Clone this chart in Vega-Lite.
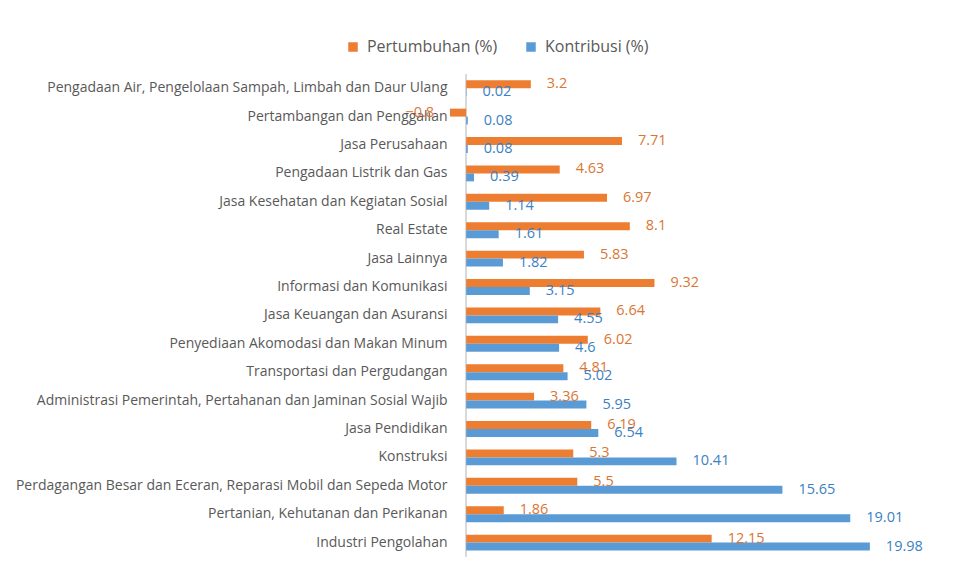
{
  "$schema": "https://vega.github.io/schema/vega-lite/v6.json",
  "autosize": "none",
  "width": 491,
  "height": 482.8,
  "padding": {"left": 450, "top": 74, "right": 21, "bottom": 9},
  "background": "white",
  "config": {
    "view": {"stroke": null},
    "font": "Open Sans",
    "text": {"font": "Open Sans"}
  },
  "data": {
    "values": [
      {"k": "Pengadaan Air, Pengelolaan Sampah, Limbah dan Daur Ulang", "s": "Pertumbuhan (%)", "v": 3.2},
      {"k": "Pengadaan Air, Pengelolaan Sampah, Limbah dan Daur Ulang", "s": "Kontribusi (%)", "v": 0.02},
      {"k": "Pertambangan dan Penggalian", "s": "Pertumbuhan (%)", "v": -0.8},
      {"k": "Pertambangan dan Penggalian", "s": "Kontribusi (%)", "v": 0.08},
      {"k": "Jasa Perusahaan", "s": "Pertumbuhan (%)", "v": 7.71},
      {"k": "Jasa Perusahaan", "s": "Kontribusi (%)", "v": 0.08},
      {"k": "Pengadaan Listrik dan Gas", "s": "Pertumbuhan (%)", "v": 4.63},
      {"k": "Pengadaan Listrik dan Gas", "s": "Kontribusi (%)", "v": 0.39},
      {"k": "Jasa Kesehatan dan Kegiatan Sosial", "s": "Pertumbuhan (%)", "v": 6.97},
      {"k": "Jasa Kesehatan dan Kegiatan Sosial", "s": "Kontribusi (%)", "v": 1.14},
      {"k": "Real Estate", "s": "Pertumbuhan (%)", "v": 8.1},
      {"k": "Real Estate", "s": "Kontribusi (%)", "v": 1.61},
      {"k": "Jasa Lainnya", "s": "Pertumbuhan (%)", "v": 5.83},
      {"k": "Jasa Lainnya", "s": "Kontribusi (%)", "v": 1.82},
      {"k": "Informasi dan Komunikasi", "s": "Pertumbuhan (%)", "v": 9.32},
      {"k": "Informasi dan Komunikasi", "s": "Kontribusi (%)", "v": 3.15},
      {"k": "Jasa Keuangan dan Asuransi", "s": "Pertumbuhan (%)", "v": 6.64},
      {"k": "Jasa Keuangan dan Asuransi", "s": "Kontribusi (%)", "v": 4.55},
      {"k": "Penyediaan Akomodasi dan Makan Minum", "s": "Pertumbuhan (%)", "v": 6.02},
      {"k": "Penyediaan Akomodasi dan Makan Minum", "s": "Kontribusi (%)", "v": 4.6},
      {"k": "Transportasi dan Pergudangan", "s": "Pertumbuhan (%)", "v": 4.81},
      {"k": "Transportasi dan Pergudangan", "s": "Kontribusi (%)", "v": 5.02},
      {"k": "Administrasi Pemerintah, Pertahanan dan Jaminan Sosial Wajib", "s": "Pertumbuhan (%)", "v": 3.36},
      {"k": "Administrasi Pemerintah, Pertahanan dan Jaminan Sosial Wajib", "s": "Kontribusi (%)", "v": 5.95},
      {"k": "Jasa Pendidikan", "s": "Pertumbuhan (%)", "v": 6.19},
      {"k": "Jasa Pendidikan", "s": "Kontribusi (%)", "v": 6.54},
      {"k": "Konstruksi", "s": "Pertumbuhan (%)", "v": 5.3},
      {"k": "Konstruksi", "s": "Kontribusi (%)", "v": 10.41},
      {"k": "Perdagangan Besar dan Eceran, Reparasi Mobil dan Sepeda Motor", "s": "Pertumbuhan (%)", "v": 5.5},
      {"k": "Perdagangan Besar dan Eceran, Reparasi Mobil dan Sepeda Motor", "s": "Kontribusi (%)", "v": 15.65},
      {"k": "Pertanian, Kehutanan dan Perikanan", "s": "Pertumbuhan (%)", "v": 1.86},
      {"k": "Pertanian, Kehutanan dan Perikanan", "s": "Kontribusi (%)", "v": 19.01},
      {"k": "Industri Pengolahan", "s": "Pertumbuhan (%)", "v": 12.15},
      {"k": "Industri Pengolahan", "s": "Kontribusi (%)", "v": 19.98}
    ]
  },
  "encoding": {
    "y": {
      "field": "k",
      "type": "nominal",
      "sort": null,
      "scale": {"paddingInner": 0.44, "paddingOuter": 0.22},
      "axis": {
        "title": null,
        "domain": false,
        "ticks": false,
        "labelPadding": 3,
        "labelFontSize": 14,
        "labelColor": "#595959",
        "labelLimit": 500,
        "labelFont": "Open Sans"
      }
    },
    "yOffset": {
      "field": "s",
      "type": "nominal",
      "scale": {"domain": ["Pertumbuhan (%)", "Kontribusi (%)"], "paddingInner": 0, "paddingOuter": 0}
    },
    "x": {
      "field": "v",
      "type": "quantitative",
      "scale": {"domain": [-0.8, 23.5], "nice": false, "zero": false},
      "axis": null
    }
  },
  "layer": [
    {
      "mark": {"type": "rule", "color": "#d9d9d9", "strokeWidth": 1},
      "encoding": {"x": {"datum": 0}, "y": null, "yOffset": null}
    },
    {
      "mark": {"type": "bar"},
      "encoding": {
        "color": {
          "field": "s",
          "type": "nominal",
          "scale": {"domain": ["Pertumbuhan (%)", "Kontribusi (%)"], "range": ["#ED7D31", "#5B9BD5"]},
          "legend": {
            "title": null,
            "orient": "none",
            "direction": "horizontal",
            "legendX": -105,
            "legendY": -35,
            "symbolType": "square",
            "symbolSize": 90,
            "symbolStrokeWidth": 0,
            "labelFontSize": 16,
            "labelColor": "#595959",
            "labelFont": "Open Sans",
            "columnPadding": 25,
            "labelOffset": 6
          }
        }
      }
    },
    {
      "transform": [{"filter": "datum.s == 'Pertumbuhan (%)' && datum.v >= 0"}],
      "mark": {"type": "text", "align": "left", "dx": 16, "fontSize": 14.5, "color": "#DA7634", "baseline": "middle"},
      "encoding": {"text": {"field": "v", "type": "quantitative", "format": "~g"}}
    },
    {
      "transform": [{"filter": "datum.s == 'Pertumbuhan (%)' && datum.v < 0"}],
      "mark": {"type": "text", "align": "right", "dx": -16, "fontSize": 14.5, "color": "#DA7634", "baseline": "middle"},
      "encoding": {"text": {"field": "v", "type": "quantitative", "format": "~g"}}
    },
    {
      "transform": [{"filter": "datum.s == 'Kontribusi (%)'"}],
      "mark": {"type": "text", "align": "left", "dx": 16, "fontSize": 14.5, "color": "#3B7FC4", "baseline": "middle"},
      "encoding": {"text": {"field": "v", "type": "quantitative", "format": "~g"}}
    }
  ]
}
